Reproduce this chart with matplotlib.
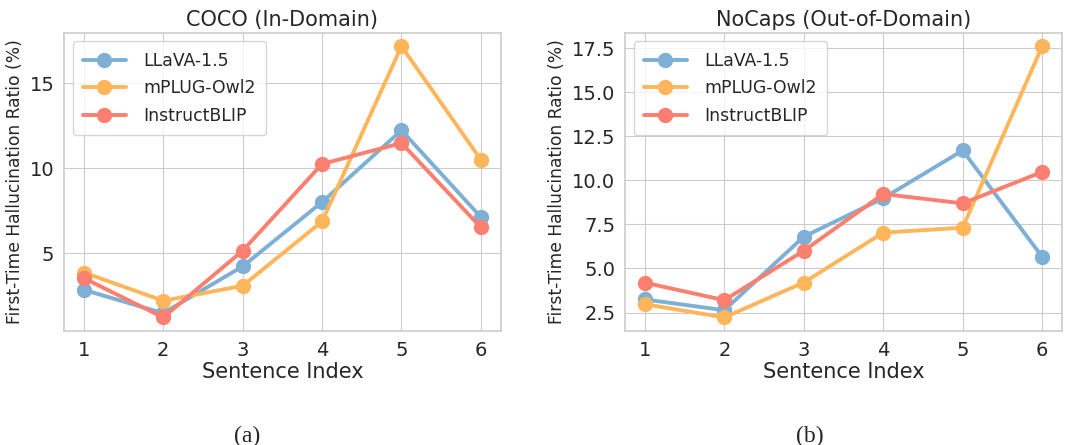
import matplotlib
matplotlib.use("Agg")
import matplotlib.pyplot as plt
import seaborn as sns

sns.set_style("whitegrid")
plt.rcParams['font.family'] = ['DejaVu Sans']

sentence_idx = [1, 2, 3, 4, 5, 6]
models = ["LLaVA-1.5", "mPLUG-Owl2", "InstructBLIP"]
colors = ["#7eb0d5", "#ffb55a", "#fd7f6f"]

# COCO (in-domain)
coco_llava = [2.84, 1.47, 4.22, 8.0, 12.22, 7.12]
coco_mplug = [3.86, 2.2, 3.08, 6.86, 17.16, 10.49]
coco_iblip = [3.53, 1.22, 5.14, 10.24, 11.47, 6.51]

# NoCaps (out-of-domain)
nocaps_llava = [3.24, 2.63, 6.8, 8.98, 11.69, 5.66]
nocaps_mplug = [2.97, 2.22, 4.2, 7.03, 7.31, 17.6]
nocaps_iblip = [4.19, 3.2, 6.0, 9.22, 8.69, 10.47]

fig = plt.figure(figsize=(10.67, 4.45), dpi=100)
ax1 = fig.add_axes([64 / 1067, 1 - 331 / 445, (500.7 - 64) / 1067, (331 - 32.7) / 445])
ax2 = fig.add_axes([625 / 1067, 1 - 331 / 445, (1062 - 625) / 1067, (331 - 32.7) / 445])

panels = [
    (ax1, "COCO (In-Domain)", [coco_llava, coco_mplug, coco_iblip]),
    (ax2, "NoCaps (Out-of-Domain)", [nocaps_llava, nocaps_mplug, nocaps_iblip]),
]

for ax, title, series in panels:
    for name, vals, c in zip(models, series, colors):
        ax.plot(sentence_idx, vals, marker="o", color=c, label=name,
                linewidth=2.8, markersize=10)
    ax.set_title(title, fontsize=15, color="#262626", pad=5)
    ax.set_xlabel("Sentence Index", fontsize=15, color="#262626", labelpad=2)
    ax.set_ylabel("First-Time Hallucination Ratio (%)", fontsize=12.3, color="#262626")
    ax.set_xticks(sentence_idx)
    ax.tick_params(labelsize=14, colors="#262626")
    for s in ax.spines.values():
        s.set_color("#cccccc")
        s.set_linewidth(1.2)
    leg = ax.legend(loc="upper left", fontsize=12.4, framealpha=0.8, edgecolor="#cccccc",
                    handlelength=2.5, borderpad=0.6, labelspacing=0.55,
                    handletextpad=1.0)
    for t in leg.get_texts():
        t.set_color("#262626")

ax1.set_yticks([5, 10, 15])

fig.text(247 / 1067, 1 - 436 / 445, "(a)", family="Liberation Serif", fontsize=17,
         ha="center", va="center")
fig.text(810 / 1067, 1 - 436 / 445, "(b)", family="Liberation Serif", fontsize=17,
         ha="center", va="center")

fig.savefig("out.png", dpi=100)
